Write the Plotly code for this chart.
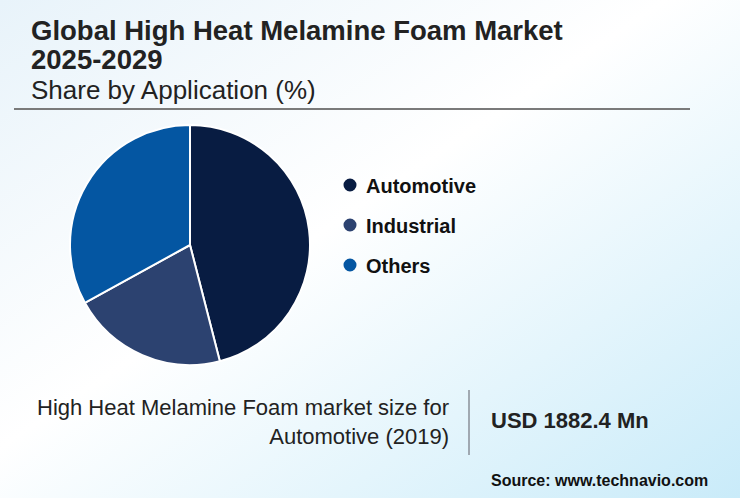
import base64

import plotly.graph_objects as go

# data
applications = ["Automotive", "Industrial", "Others"]
shares = [46.0, 21.0, 33.0]
colors = ["#081c42", "#2c4270", "#0456a2"]

title_line1 = "Global High Heat Melamine Foam Market"
title_line2 = "2025-2029"
subtitle = "Share by Application (%)"
kpi_label = "High Heat Melamine Foam market size for<br>Automotive (2019)"
kpi_value = "USD 1882.4 Mn"
source = "Source: www.technavio.com"

W, H = 740, 498

# diagonal background gradient as an inline svg
svg = f"""<svg xmlns='http://www.w3.org/2000/svg' width='{W}' height='{H}'>
<defs><linearGradient id='g' x1='0' y1='0' x2='1' y2='1'>
<stop offset='0' stop-color='#e8f3fa'/>
<stop offset='0.45' stop-color='#ffffff'/>
<stop offset='1' stop-color='#c9ebf9'/>
</linearGradient></defs>
<rect width='{W}' height='{H}' fill='url(#g)'/></svg>"""
bg_src = "data:image/svg+xml;base64," + base64.b64encode(svg.encode()).decode()


def px_x(x):
    return x / W


def px_y(y):
    return 1 - y / H


fig = go.Figure()

fig.add_trace(go.Pie(labels=applications,
                     values=shares,
                     sort=False,
                     direction="clockwise",
                     rotation=0,
                     marker=dict(colors=colors,
                                 line=dict(color="white", width=2)),
                     textinfo="none",
                     hovertemplate="%{label}: %{value}%<extra></extra>",
                     showlegend=False,
                     domain=dict(x=[px_x(70), px_x(310)],
                                 y=[px_y(365), px_y(125)])))

font_main = "Liberation Sans, Arial, sans-serif"

# header block: one annotation, line spacing comes from the base size
header = (f"<span style='font-size:27.5px'><b>{title_line1}</b></span><br>"
          f"<span style='font-size:27.5px'><b>{title_line2}</b></span><br>"
          f"<span style='font-size:26px'>{subtitle}</span>")

annotations = [
    dict(text=header, x=px_x(29), y=px_y(59.5), align="left",
         xanchor="left", yanchor="middle", font=dict(size=22.5, color="#222")),
    dict(text=kpi_label, x=px_x(451), y=px_y(422), align="right",
         xanchor="right", yanchor="middle", font=dict(size=22, color="#222")),
    dict(text=f"<b>{kpi_value}</b>", x=px_x(489), y=px_y(420),
         xanchor="left", yanchor="middle", font=dict(size=22, color="#222")),
    dict(text=f"<b>{source}</b>", x=px_x(489), y=px_y(480),
         xanchor="left", yanchor="middle", font=dict(size=16, color="#111")),
]

shapes = [
    dict(type="line", xref="paper", yref="paper",
         x0=px_x(14), x1=px_x(690), y0=px_y(109), y1=px_y(109),
         line=dict(color="#7a7a7a", width=2)),
    dict(type="line", xref="paper", yref="paper",
         x0=px_x(469), x1=px_x(469), y0=px_y(390), y1=px_y(455),
         line=dict(color="#8a8f99", width=1.5)),
]

# custom legend with round markers
for i, (name, col) in enumerate(zip(applications, colors)):
    cy = 185 + 40 * i
    shapes.append(dict(type="circle", xref="paper", yref="paper",
                       x0=px_x(343.5), x1=px_x(356.5),
                       y0=px_y(cy + 6.5), y1=px_y(cy - 6.5),
                       fillcolor=col, line=dict(width=0)))
    annotations.append(dict(text=f"<b>{name}</b>", x=px_x(364), y=px_y(cy + 1),
                            xanchor="left", yanchor="middle",
                            font=dict(size=20, color="#111")))

for a in annotations:
    a.update(xref="paper", yref="paper", showarrow=False)

fig.update_layout(width=W,
                  height=H,
                  margin=dict(l=0, r=0, t=0, b=0),
                  paper_bgcolor="white",
                  plot_bgcolor="rgba(0,0,0,0)",
                  font=dict(family=font_main),
                  annotations=annotations,
                  shapes=shapes,
                  images=[dict(source=bg_src, xref="paper", yref="paper",
                               x=0, y=1, sizex=1, sizey=1,
                               xanchor="left", yanchor="top",
                               sizing="stretch", layer="below")])

# drop the default page margin so the figure sits at the window corner
fig.write_html("out.html",
               config={"displayModeBar": False},
               post_script="document.body.style.margin='0';")
